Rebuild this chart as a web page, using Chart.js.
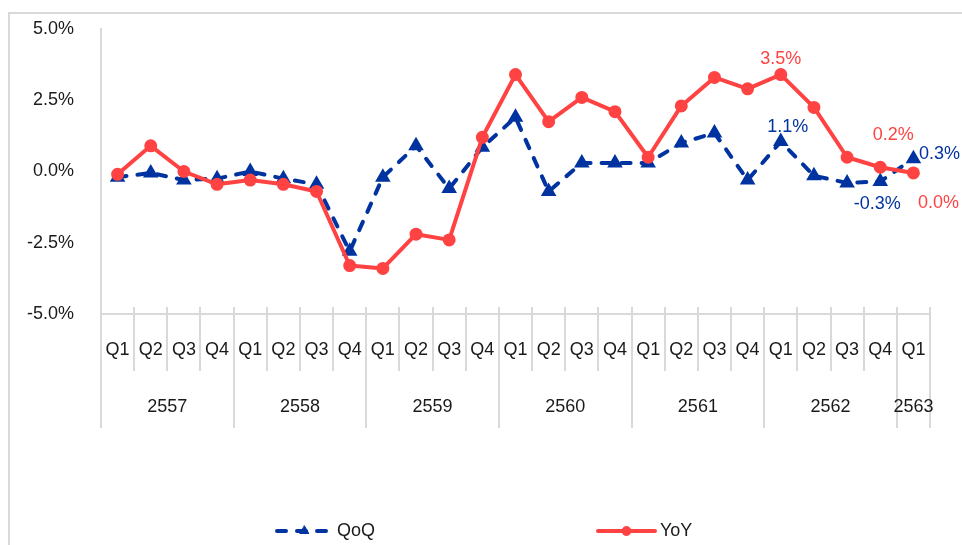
<!DOCTYPE html>
<html>
<head>
<meta charset="utf-8">
<script src="https://cdn.jsdelivr.net/npm/chart.js@4.4.0/dist/chart.umd.min.js"></script>
<style>
    body { margin: 0; background: #fff; }
    #wrap { width: 962px; height: 545px; position: relative; }
</style>
</head>
<body>
<div id="wrap"><canvas id="gdpChart"></canvas></div>
<script>
// data
var quarters = ['Q1', 'Q2', 'Q3', 'Q4', 'Q1', 'Q2', 'Q3', 'Q4', 'Q1', 'Q2', 'Q3', 'Q4',
    'Q1', 'Q2', 'Q3', 'Q4', 'Q1', 'Q2', 'Q3', 'Q4', 'Q1', 'Q2', 'Q3', 'Q4', 'Q1'];
var years = ['2557', '2558', '2559', '2560', '2561', '2562', '2563'];
var yearSpans = [4, 4, 4, 4, 4, 4, 1];

var qoq = [-0.2, -0.05, -0.3, -0.25, 0.0, -0.25, -0.45, -2.8, -0.2, 0.9, -0.6, 0.85,
    1.9, -0.7, 0.3, 0.3, 0.3, 1.0, 1.35, -0.3, 1.05, -0.15, -0.4, -0.35, 0.45];
var yoy = [-0.1, 0.9, 0.0, -0.45, -0.3, -0.45, -0.7, -3.3, -3.4, -2.2, -2.4, 1.2,
    3.4, 1.75, 2.6, 2.1, 0.5, 2.3, 3.3, 2.9, 3.4, 2.25, 0.5, 0.15, -0.05];

var yTicks = [-5, -2.5, 0, 2.5, 5];

// value notes shown on the last points
var qoqNoteIdx = [20, 23, 24];
var qoqNotes = ['1.1%', '-0.3%', '0.3%'];
var yoyNoteIdx = [20, 23, 24];
var yoyNotes = ['3.5%', '0.2%', '0.0%'];

var FONT = '"Liberation Sans", Arial, sans-serif';
var BLUE = '#0033a0';
var RED = '#ff4343';
var GRID = '#d9d9d9';
var TEXT = '#1a1a1a';
var PLOT_TOP = 29;

// where each note sits relative to its point
var noteOffsets = {
    qoq: [[7, -15], [-3, 23], [26, -5]],
    yoy: [[0, -16], [13, -32], [25, 30]]
};

var axisPlugin = {
    id: 'axisPlugin',
    afterLayout: function (chart) {
        // pull the plot top up to where the 5.0% tick sits in the original
        var ys = chart.scales.y;
        chart.chartArea.top = PLOT_TOP;
        chart.chartArea.height = chart.chartArea.bottom - PLOT_TOP;
        ys.top = PLOT_TOP;
        ys.height = ys.bottom - PLOT_TOP;
        ys.configure();
    },
    beforeDraw: function (chart) {
        var ctx = chart.ctx;
        ctx.save();
        ctx.strokeStyle = GRID;
        ctx.lineWidth = 2;
        ctx.strokeRect(9, 13, 1000, 600);
        ctx.restore();
    },
    afterDraw: function (chart) {
        var ctx = chart.ctx;
        var xs = chart.scales.x;
        var area = chart.chartArea;
        var half = (xs.getPixelForValue(1) - xs.getPixelForValue(0)) / 2;
        var bottom = area.bottom;

        ctx.save();
        ctx.strokeStyle = GRID;
        ctx.lineWidth = 2;

        // axis line
        ctx.beginPath();
        ctx.moveTo(area.left, bottom);
        ctx.lineTo(area.right, bottom);
        ctx.stroke();

        // year starts
        var starts = [0];
        var s = 0;
        yearSpans.forEach(function (n) { s += n; starts.push(s); });

        for (var i = 0; i <= quarters.length; i++) {
            var xb = Math.round(xs.getPixelForValue(0) - half + i * half * 2);
            var isYear = starts.indexOf(i) >= 0;
            ctx.beginPath();
            ctx.moveTo(xb, i === 0 ? bottom : bottom - 7);
            ctx.lineTo(xb, isYear ? 428 : 371);
            ctx.stroke();
        }

        ctx.fillStyle = TEXT;
        ctx.font = '18px ' + FONT;
        ctx.textAlign = 'center';
        ctx.textBaseline = 'middle';
        quarters.forEach(function (q, i) {
            ctx.fillText(q, xs.getPixelForValue(i), 350);
        });
        years.forEach(function (y, k) {
            var c = (xs.getPixelForValue(starts[k]) + xs.getPixelForValue(starts[k + 1] - 1)) / 2;
            ctx.fillText(y, c, 407);
        });

        // notes
        ctx.font = '18px ' + FONT;
        var metaQ = chart.getDatasetMeta(0);
        var metaY = chart.getDatasetMeta(1);
        ctx.fillStyle = BLUE;
        qoqNoteIdx.forEach(function (idx, k) {
            var p = metaQ.data[idx];
            ctx.fillText(qoqNotes[k], p.x + noteOffsets.qoq[k][0], p.y + noteOffsets.qoq[k][1]);
        });
        ctx.fillStyle = RED;
        yoyNoteIdx.forEach(function (idx, k) {
            var p = metaY.data[idx];
            ctx.fillText(yoyNotes[k], p.x + noteOffsets.yoy[k][0], p.y + noteOffsets.yoy[k][1]);
        });

        // legend
        var ly = 531;
        chart.data.datasets.forEach(function (ds, k) {
            var x0 = k === 0 ? 277 : 598;
            var x1 = k === 0 ? 332 : 655;
            ctx.strokeStyle = ds.borderColor;
            ctx.lineWidth = ds.borderWidth;
            ctx.lineCap = ds.borderCapStyle || 'butt';
            ctx.setLineDash(ds.borderDash || []);
            ctx.beginPath();
            ctx.moveTo(x0, ly);
            ctx.lineTo(x1, ly);
            ctx.stroke();
            ctx.setLineDash([]);
            ctx.fillStyle = ds.pointBackgroundColor;
            ctx.strokeStyle = ds.pointBorderColor;
            ctx.lineWidth = 1;
            Chart.helpers.drawPoint(ctx, {
                pointStyle: ds.pointStyle,
                radius: ds.pointRadius,
                rotation: 0,
                borderWidth: 1
            }, (x0 + x1) / 2, ly);
            ctx.fillStyle = TEXT;
            ctx.font = '18px ' + FONT;
            ctx.textAlign = 'left';
            ctx.fillText(ds.label, x1 + 5, ly);
        });
        ctx.restore();
    }
};

var ctx = document.getElementById('gdpChart').getContext('2d');
var gdpChart = new Chart(ctx, {
    type: 'line',
    data: {
        labels: quarters,
        datasets: [{
            label: 'QoQ',
            data: qoq,
            borderColor: BLUE,
            backgroundColor: BLUE,
            borderWidth: 4,
            borderDash: [9, 11],
            borderCapStyle: 'round',
            pointStyle: 'triangle',
            pointRadius: 5,
            pointBackgroundColor: BLUE,
            pointBorderColor: BLUE,
            tension: 0,
            order: 1
        },
        {
            label: 'YoY',
            data: yoy,
            borderColor: RED,
            backgroundColor: RED,
            borderWidth: 4,
            borderCapStyle: 'round',
            borderJoinStyle: 'round',
            pointStyle: 'circle',
            pointRadius: 4.5,
            pointBackgroundColor: RED,
            pointBorderColor: RED,
            tension: 0,
            order: 0
        }]
    },
    options: {
        responsive: true,
        maintainAspectRatio: false,
        animation: false,
        layout: {
            padding: { top: 21, right: 32, bottom: 231, left: 0 }
        },
        plugins: {
            legend: { display: false },
            tooltip: { enabled: false }
        },
        scales: {
            x: {
                display: false,
                offset: true
            },
            y: {
                min: -5,
                max: 5,
                afterFit: function (scale) { scale.width = 101; },
                afterBuildTicks: function (scale) {
                    scale.ticks = yTicks.map(function (v) { return { value: v }; });
                },
                grid: { display: false, drawTicks: false },
                border: { display: true, color: GRID, width: 2 },
                ticks: {
                    padding: 27,
                    color: TEXT,
                    font: { family: FONT, size: 18 },
                    callback: function (v) { return v.toFixed(1) + '%'; }
                }
            }
        }
    },
    plugins: [axisPlugin]
});
</script>
</body>
</html>
